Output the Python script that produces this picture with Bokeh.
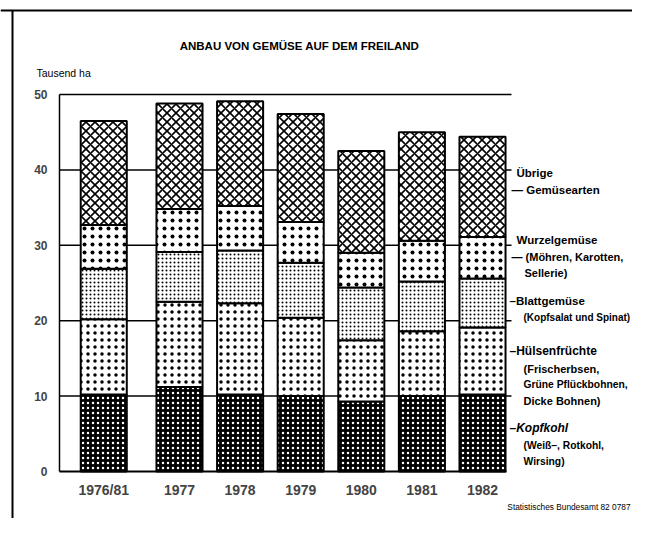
from bokeh.plotting import figure
from bokeh.models import Range1d, FixedTicker, Label
from bokeh.transform import stack
from bokeh.embed import file_html
from bokeh.resources import INLINE

# ---- data (Tausend ha) ----
years = ["1976/81", "1977", "1978", "1979", "1980", "1981", "1982"]
kopfkohl = [10.2, 11.2, 10.2, 10.0, 9.3, 10.0, 10.2]
huelsen = [10.0, 11.3, 12.1, 10.4, 8.1, 8.6, 8.9]
blatt = [6.7, 6.6, 7.0, 7.3, 7.0, 6.6, 6.5]
wurzel = [5.8, 5.7, 5.9, 5.4, 4.6, 5.4, 5.5]
uebrige = [13.8, 14.0, 13.9, 14.3, 13.5, 14.4, 13.3]
y_ticks = [0, 10, 20, 30, 40, 50]

FONT = "Liberation Sans"
W, H, ORIGIN = 632, 518, 1

# slot positions: first period set apart a little from the single years
centers = [100 * i + (25 if i else 0) for i in range(len(years))]

# page-pixel -> data helpers (layout only)
def px(xp):
    return (xp - 104.25) / 0.606

def py(yp):
    return (472 - yp) / 7.54

src = dict(x=centers, kopfkohl=kopfkohl, huelsen=huelsen, blatt=blatt,
           wurzel=wurzel, uebrige=uebrige)

p = figure(width=W, height=H, output_backend="svg", toolbar_location=None,
           x_range=Range1d(px(ORIGIN), px(ORIGIN + W)),
           y_range=Range1d(py(ORIGIN + H), py(ORIGIN)),
           min_border=0, background_fill_color="white", border_fill_color="white")
p.outline_line_color = None

# frame lines of the sheet
p.line([px(13), px(13)], [py(11), py(ORIGIN + H)], line_color="black", line_width=2)
p.line([px(ORIGIN), px(ORIGIN + W)], [py(11), py(11)], line_color="black", line_width=2)

# horizontal rules behind the bars
p.segment(x0=px(60), x1=px(512), y0=y_ticks[1:], y1=y_ticks[1:],
          line_color="black", line_width=1.5, level="underlay")

layers = [
    ("kopfkohl", dict(fill_color="black", hatch_pattern="dot", hatch_color="white", hatch_scale=5, hatch_weight=0.8)),
    ("huelsen", dict(fill_color="white", hatch_pattern="dot", hatch_color="black", hatch_scale=7, hatch_weight=1.0)),
    ("blatt", dict(fill_color="white", hatch_pattern="dot", hatch_color="black", hatch_scale=4, hatch_weight=2.0)),
    ("wurzel", dict(fill_color="white", hatch_pattern="dot", hatch_color="black", hatch_scale=8, hatch_weight=0.2)),
    ("uebrige", dict(fill_color="white", hatch_pattern="diagonal_cross", hatch_color="black", hatch_scale=9, hatch_weight=1.6)),
]
names = [n for n, _ in layers]
for i, (name, style) in enumerate(layers):
    p.vbar(x="x", width=76, bottom=stack(*names[:i]), top=stack(*names[:i + 1]),
           source=src, line_color="black", line_width=2, **style)

# axes (drawn inside the frame at fixed positions)
p.xaxis.fixed_location = 0
p.xaxis.bounds = (px(60), centers[-1] + 40)
p.xaxis.ticker = FixedTicker(ticks=centers)
p.xaxis.major_label_overrides = {c: y for c, y in zip(centers, years)}
p.xaxis.axis_line_color = "black"
p.xaxis.axis_line_width = 2
p.xaxis.major_tick_line_color = None
p.xaxis.minor_tick_line_color = None
p.xaxis.major_label_text_font = FONT
p.xaxis.major_label_text_font_style = "bold"
p.xaxis.major_label_text_font_size = "14px"
p.xaxis.major_label_standoff = 4

p.yaxis.fixed_location = px(60)
p.yaxis.bounds = (0, 50)
p.yaxis.ticker = FixedTicker(ticks=y_ticks)
p.yaxis.axis_line_color = "black"
p.yaxis.axis_line_width = 1.5
p.yaxis.major_tick_line_color = None
p.yaxis.minor_tick_line_color = None
p.yaxis.major_label_text_font = FONT
p.yaxis.major_label_text_font_style = "bold"
p.yaxis.major_label_text_font_size = "12px"
p.yaxis.major_label_standoff = 6

p.xgrid.grid_line_color = None
p.ygrid.grid_line_color = None

def label(text, xp, yp, size="11px", style="bold", align="left"):
    p.add_layout(Label(x=px(xp), y=py(yp), text=text, text_font=FONT,
                       text_font_size=size, text_font_style=style,
                       text_align=align, text_baseline="middle", text_color="black"))

label("ANBAU VON GEMÜSE AUF DEM FREILAND", 300, 46, size="11.5px", align="center")
label("Tausend ha", 37, 73, size="10.5px", style="normal")

label("Übrige", 517, 173, size="11.5px")
label("— Gemüsearten", 512, 190, size="11.5px")
label("Wurzelgemüse", 517, 240, size="11.5px")
label("— (Möhren, Karotten,", 512, 257, size="11px")
label("Sellerie)", 525, 273, size="11px")
label("–Blattgemüse", 510, 301, size="11.5px")
label("(Kopfsalat und Spinat)", 524, 318, size="10px")
label("–Hülsenfrüchte", 510, 351, size="12px")
label("(Frischerbsen,", 524, 369, size="11px")
label("Grüne Pflückbohnen,", 524, 385, size="10.3px")
label("Dicke Bohnen)", 524, 401, size="11px")
label("–Kopfkohl", 510, 428, size="12px", style="bold italic")
label("(Weiß–, Rotkohl,", 524, 446, size="10.3px")
label("Wirsing)", 524, 462, size="10.3px")
label("Statistisches Bundesamt 82 0787", 631, 507, size="8.3px", style="normal", align="right")

open("out.html", "w").write(file_html(p, INLINE))
